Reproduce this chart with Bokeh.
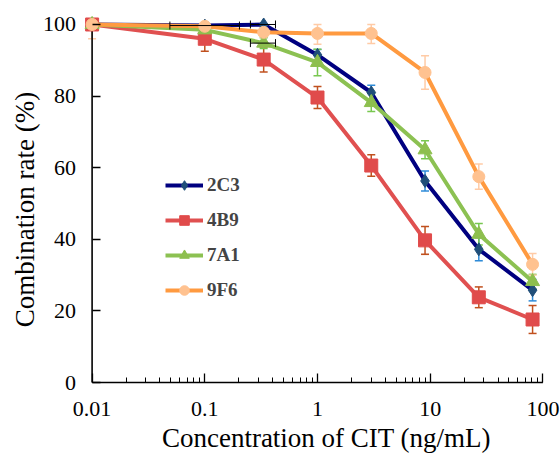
import math
from bokeh.plotting import figure
from bokeh.models import (Range1d, FixedTicker, Whisker, TeeHead, ColumnDataSource,
                          Legend, LegendItem, Label)
from bokeh.embed import file_html
from bokeh.resources import INLINE

# ---- data ----
conc = [0.01, 0.1, 0.333, 1, 3, 9, 27, 81]

rate_2C3 = [100, 99.7, 100, 91.5, 81, 56.3, 37.2, 25.8]
err_2C3 = [0.5, 0.5, 0.8, 1.5, 2.0, 2.8, 3.2, 3.0]
rate_4B9 = [100, 96, 90.2, 79.6, 60.6, 39.7, 23.8, 17.6]
err_4B9 = [1.5, 3.5, 3.5, 3.1, 3.0, 3.9, 2.9, 3.9]
rate_7A1 = [100, 98.5, 94.8, 89.4, 78.2, 65.0, 41.4, 28.2]
err_7A1 = [1.5, 1.0, 1.5, 3.7, 2.5, 2.5, 3.0, 2.0]
rate_9F6 = [100, 99.5, 97.8, 97.5, 97.5, 86.6, 57.5, 33.0]
err_9F6 = [4.0, 0.5, 0.5, 3.0, 2.8, 4.7, 3.5, 3.0]

# horizontal (x) error bars seen near the top
xerr_conc = [0.1, 0.333, 0.333]
xerr_rate = [99.7, 100, 94.8]
xerr_low = [0.049, 0.254, 0.254]
xerr_high = [0.203, 0.424, 0.424]

x_tick_vals = [0.01, 0.1, 1, 10, 100]
x_tick_labels = ["0.01", "0.1", "1", "10", "100"]
y_tick_vals = [0, 20, 40, 60, 80, 100]

X_TITLE = "Concentration of CIT (ng/mL)"
Y_TITLE = "Combination rate (%)"

X_LO, X_HI = 0.01, 100
Y_LO, Y_HI = 0, 100

series = [
    ("2C3", rate_2C3, err_2C3, "#000080", "#1F4E79", "#2E8BD8", "diamond", 13),
    ("4B9", rate_4B9, err_4B9, "#E05050", "#E04B4B", "#C0501E", "square", 13),
    ("7A1", rate_7A1, err_7A1, "#8CC152", "#8DBF4E", "#78C850", "triangle", 14),
    ("9F6", rate_9F6, err_9F6, "#FF9A40", "#FFC290", "#FFCBA6", "circle", 12),
]

FONT = "'Liberation Serif', 'Times New Roman', serif"

# frame covers the whole canvas so that axes drawn at fixed locations are not clipped
p = figure(width=560, height=455, x_axis_type="log",
           x_range=Range1d(0.001539, 143.3), y_range=Range1d(-20.39, 106.70),
           output_backend="svg", toolbar_location=None,
           min_border_left=0, min_border_right=0, min_border_top=0, min_border_bottom=0)
p.grid.visible = False
p.outline_line_color = None
p.background_fill_color = "white"

xa = p.xaxis[0]
xa.ticker = FixedTicker(ticks=x_tick_vals,
                        minor_ticks=[m * 10.0 ** e for e in (-2, -1, 0, 1) for m in range(2, 10)])
xa.major_label_overrides = {v: s for v, s in zip(x_tick_vals, x_tick_labels)}
xa.fixed_location = Y_LO
ya = p.yaxis[0]
ya.ticker = FixedTicker(ticks=y_tick_vals, minor_ticks=[])
ya.fixed_location = X_LO

for ax in (xa, ya):
    ax.axis_line_color = None
    ax.major_tick_line_color = "black"
    ax.minor_tick_line_color = "black"
    ax.major_tick_line_width = 1.3
    ax.minor_tick_line_width = 1.0
    ax.major_tick_out = 0
    ax.minor_tick_out = 0
    ax.major_label_text_font = FONT
    ax.major_label_text_font_size = "22px"
    ax.major_label_text_color = "black"

xa.major_tick_in = 9
xa.minor_tick_in = 5
xa.major_label_standoff = 19
ya.major_tick_in = 8
ya.major_label_standoff = 16

# axis titles (placed off-centre as in the original)
p.add_layout(Label(x=326, y=18, x_units="screen", y_units="screen", text=X_TITLE,
                   text_font=FONT, text_font_size="27px", text_color="black",
                   text_align="center", text_baseline="alphabetic"))
p.add_layout(Label(x=24, y=246, x_units="screen", y_units="screen", text=Y_TITLE,
                   angle=math.pi / 2, text_font=FONT, text_font_size="27px",
                   text_color="black", text_align="center", text_baseline="alphabetic"))

# axis lines
p.segment(x0=[X_LO, X_LO], y0=[Y_LO, Y_LO], x1=[X_LO, X_HI], y1=[Y_HI, Y_LO],
          line_color="black", line_width=1.6)

items = []
for name, rate, err, lc, mc, ec, marker, msize in series:
    src = ColumnDataSource(dict(
        x=conc, y=rate,
        # error bars are cut at the top of the value axis, as in the original
        upper=[min(r + e, Y_HI) for r, e in zip(rate, err)],
        lower=[r - e for r, e in zip(rate, err)]))
    w = Whisker(base="x", upper="upper", lower="lower", source=src, dimension="height",
                line_color=ec, line_width=1.5, level="underlay",
                upper_head=TeeHead(size=8, line_color=ec, line_width=1.5),
                lower_head=TeeHead(size=8, line_color=ec, line_width=1.5))
    p.add_layout(w)
    lr = p.line("x", "y", source=src, line_color=lc, line_width=4, line_join="round")
    sr = p.scatter("x", "y", source=src, marker=marker, size=msize,
                   fill_color=mc, line_color=mc)
    items.append(LegendItem(label=name, renderers=[lr, sr]))

xsrc = ColumnDataSource(dict(y=xerr_rate, x=xerr_conc, lo=xerr_low, hi=xerr_high))
p.add_layout(Whisker(base="y", upper="hi", lower="lo", source=xsrc, dimension="width",
                     line_color="black", line_width=1, level="overlay",
                     upper_head=TeeHead(size=8, line_color="black", line_width=1),
                     lower_head=TeeHead(size=8, line_color="black", line_width=1)))

legend = Legend(items=items, location=(165, 153), orientation="vertical",
                glyph_width=38, glyph_height=24, label_height=24, spacing=11,
                padding=0, margin=0, border_line_color=None, background_fill_alpha=0,
                label_text_font=FONT, label_text_font_style="bold",
                label_text_font_size="19px", label_standoff=4)
p.add_layout(legend)

open("out.html", "w").write(file_html(p, INLINE))
